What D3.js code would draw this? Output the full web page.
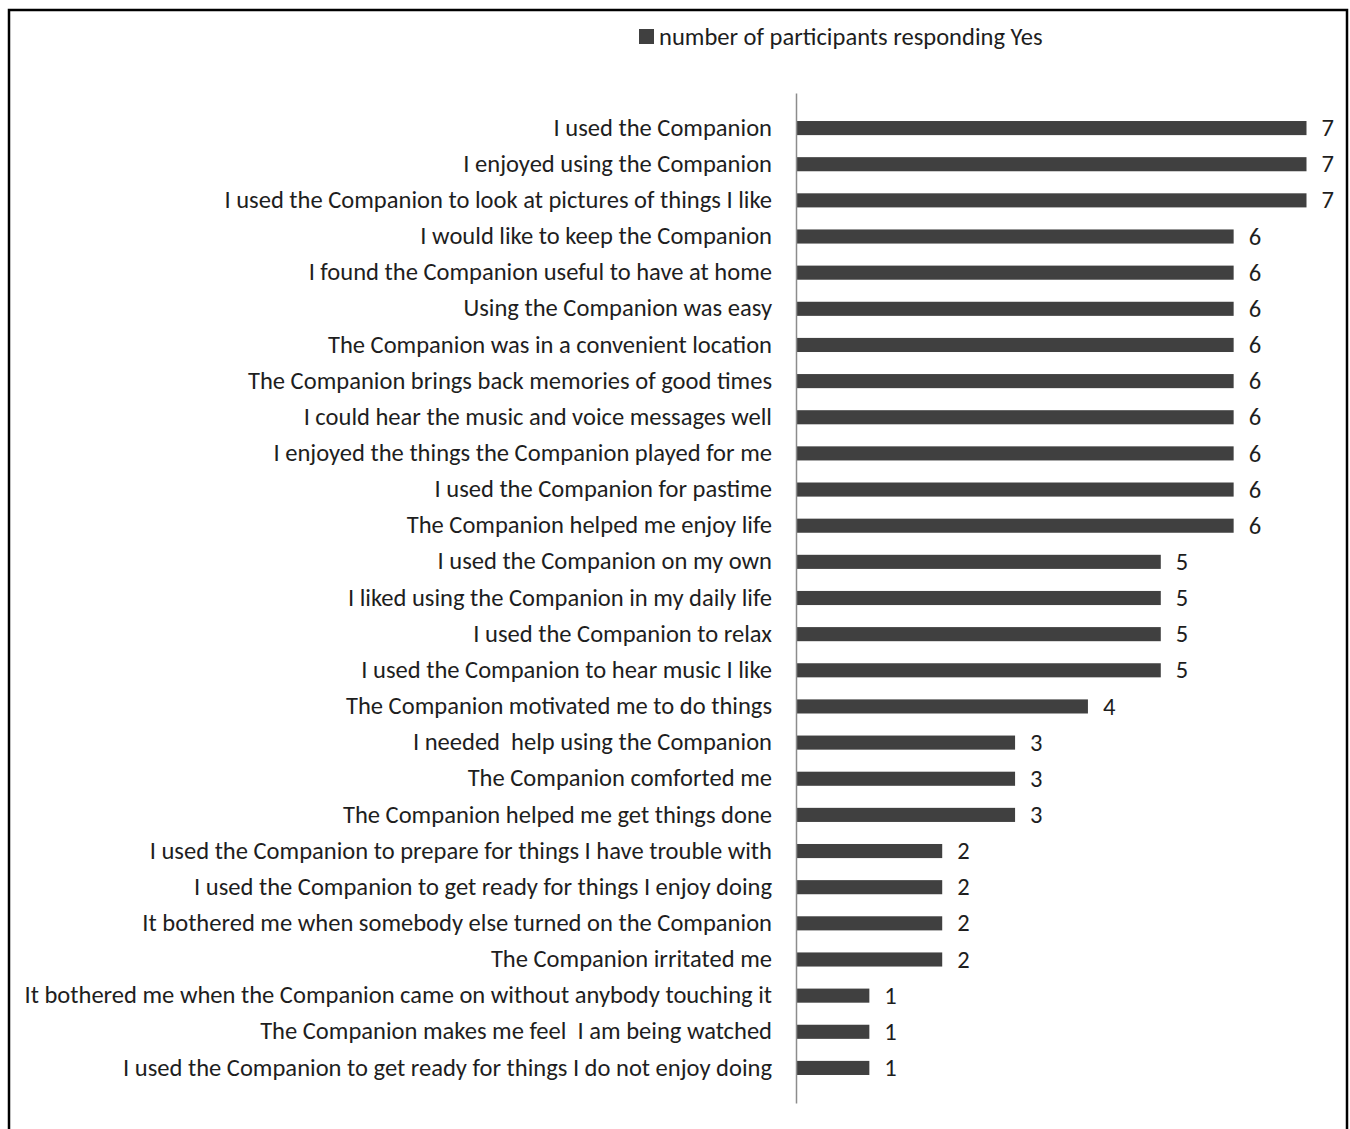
<!DOCTYPE html>
<html>
<head>
<meta charset="utf-8">
<script src="https://cdn.jsdelivr.net/npm/d3@7"></script>
<style>
  body { margin: 0; background: #fff; }
  svg { display: block; }
  text { font-family: Carlito, Lato, "Open Sans", sans-serif; fill: #1e1e1e; }
</style>
</head>
<body>
<svg id="viz" width="1350" height="1129"></svg>
<script>
// Statements, top to bottom
const statements = [
    "I used the Companion",
    "I enjoyed using the Companion",
    "I used the Companion to look at pictures of things I like",
    "I would like to keep the Companion",
    "I found the Companion useful to have at home",
    "Using the Companion was easy",
    "The Companion was in a convenient location",
    "The Companion brings back memories of good times",
    "I could hear the music and voice messages well",
    "I enjoyed the things the Companion played for me",
    "I used the Companion for pastime",
    "The Companion helped me enjoy life",
    "I used the Companion on my own",
    "I liked using the Companion in my daily life",
    "I used the Companion to relax",
    "I used the Companion to hear music I like",
    "The Companion motivated me to do things",
    "I needed  help using the Companion",
    "The Companion comforted me",
    "The Companion helped me get things done",
    "I used the Companion to prepare for things I have trouble with",
    "I used the Companion to get ready for things I enjoy doing",
    "It bothered me when somebody else turned on the Companion",
    "The Companion irritated me",
    "It bothered me when the Companion came on without anybody touching it",
    "The Companion makes me feel  I am being watched",
    "I used the Companion to get ready for things I do not enjoy doing"
];

// number of participants responding Yes
const yesCounts = [7, 7, 7, 6, 6, 6, 6, 6, 6, 6, 6, 6, 5, 5, 5, 5, 4, 3, 3, 3, 2, 2, 2, 2, 1, 1, 1];

const seriesName = "number of participants responding Yes";

const svg = d3.select("#viz");
const width = 1350;
const height = 1129;

// frame around the figure (bottom edge runs off the page)
svg.append("rect")
    .attr("x", 9)
    .attr("y", 10)
    .attr("width", 1338)
    .attr("height", 1140)
    .attr("fill", "none")
    .attr("stroke", "#000")
    .attr("stroke-width", 2.5);

const x = d3.scaleLinear()
    .domain([0, 7])
    .range([796.5, 1306.5]);

const y = d3.scaleBand()
    .domain(statements)
    .range([93, 1103])
    .paddingInner(0.61)
    .paddingOuter(0.775);

const data = statements.map((s, i) => ({ label: s, value: yesCounts[i] }));

// bars
svg.selectAll("rect.bar")
    .data(data)
    .join("rect")
    .attr("class", "bar")
    .attr("x", x(0))
    .attr("y", d => y(d.label))
    .attr("width", d => x(d.value) - x(0))
    .attr("height", y.bandwidth())
    .attr("fill", "#404040");

// value labels
svg.selectAll("text.value")
    .data(data)
    .join("text")
    .attr("class", "value")
    .attr("x", d => x(d.value) + 15)
    .attr("y", d => y(d.label) + y.bandwidth() / 2)
    .attr("dy", "0.33em")
    .attr("font-size", 21)
    .text(d => d.value);

// category axis
const axis = svg.append("g")
    .attr("transform", `translate(${x(0) - 0.5},0)`)
    .call(d3.axisLeft(y).tickSize(0).tickPadding(24));

axis.select(".domain")
    .attr("stroke", "#8c8c8c")
    .attr("stroke-width", 1.5);

axis.selectAll(".tick text")
    .attr("font-family", null)
    .attr("font-size", 21)
    .attr("fill", "#1e1e1e")
    .style("white-space", "pre")
    .attr("dy", "0.31em");

// fit font so the longest label spans like the reference (24 -> 772)
const longest = axis.selectAll(".tick text").nodes()
    .reduce((m, n) => Math.max(m, n.getComputedTextLength()), 0);
const fitSize = 21 * 748 / longest;
axis.selectAll(".tick text").attr("font-size", fitSize);
svg.selectAll("text.value").attr("font-size", fitSize);

// legend
const legend = svg.append("g").attr("transform", "translate(639,29)");
legend.append("rect")
    .attr("width", 15)
    .attr("height", 15)
    .attr("fill", "#404040");
legend.append("text")
    .attr("x", 20)
    .attr("y", 7.5)
    .attr("dy", "0.33em")
    .attr("font-size", fitSize)
    .text(seriesName);
</script>
</body>
</html>
